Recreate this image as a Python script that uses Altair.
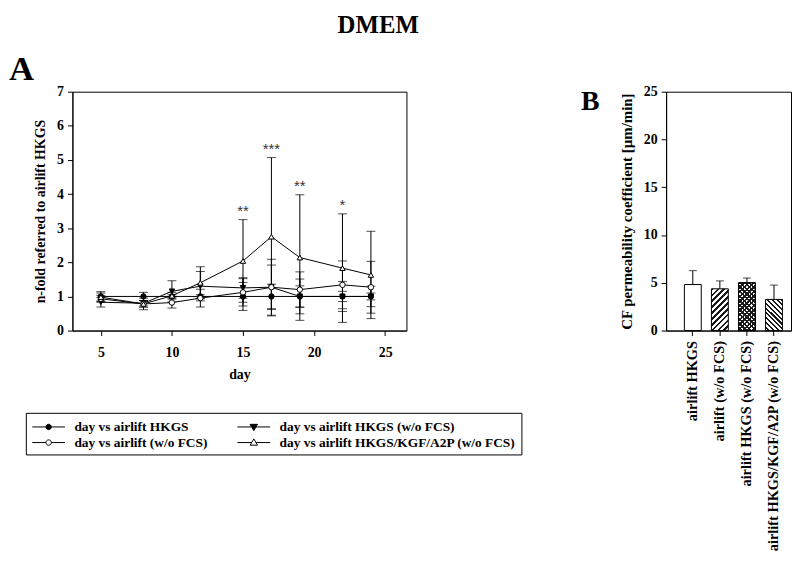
import altair as alt
import pandas as pd

# ---------------- data: panel A ----------------
days = [5, 8, 10, 12, 15, 17, 19, 22, 24]
series_names = [
    "day vs airlift HKGS",
    "day vs airlift HKGS (w/o FCS)",
    "day vs airlift (w/o FCS)",
    "day vs airlift HKGS/KGF/A2P (w/o FCS)",
]
hkgs_mean = [1.0, 1.0, 1.0, 1.0, 1.0, 1.0, 1.0, 1.0, 1.0]
hkgs_sd = [0.14, 0.12, 0.05, 0.05, 0.41, 0.36, 0.31, 0.15, 0.10]
hkgs_wo_mean = [0.83, 0.80, 1.15, 1.30, 1.25, 1.27, 1.00, 1.00, 1.00]
hkgs_wo_sd = [0.14, 0.08, 0.31, 0.43, 0.30, 0.65, 0.51, 0.44, 0.30]
airlift_wo_mean = [0.93, 0.78, 0.82, 0.95, 1.12, 1.27, 1.20, 1.34, 1.27]
airlift_wo_sd = [0.10, 0.17, 0.16, 0.26, 0.40, 0.82, 0.52, 0.70, 0.76]
kgf_mean = [0.98, 0.78, 1.02, 1.40, 2.04, 2.75, 2.14, 1.83, 1.63]
kgf_sd = [0.12, 0.10, 0.10, 0.47, 1.21, 2.32, 1.84, 1.59, 1.28]

sig_days = [15, 17, 19, 22]
sig_marks = ["**", "***", "**", "*"]

# ---------------- data: panel B ----------------
bar_categories = [
    "airlift HKGS",
    "airlift (w/o FCS)",
    "airlift HKGS (w/o FCS)",
    "airlift HKGS/KGF/A2P (w/o FCS)",
]
bar_means = [4.82, 4.37, 5.00, 3.26]
bar_sd = [1.45, 0.83, 0.50, 1.50]

# ---------------- tables ----------------
rows = []
for name, m, s in zip(series_names,
                      [hkgs_mean, hkgs_wo_mean, airlift_wo_mean, kgf_mean],
                      [hkgs_sd, hkgs_wo_sd, airlift_wo_sd, kgf_sd]):
    for d, mv, sv in zip(days, m, s):
        rows.append({"series": name, "day": d, "mean": mv, "lo": mv - sv, "hi": mv + sv})
df_a = pd.DataFrame(rows)

kgf_top = {d: m + s for d, m, s in zip(days, kgf_mean, kgf_sd)}
df_sig = pd.DataFrame({"day": sig_days, "mark": sig_marks,
                       "top": [kgf_top[d] for d in sig_days]})

df_b = pd.DataFrame({"cat": bar_categories, "mean": bar_means,
                     "hi": [m + s for m, s in zip(bar_means, bar_sd)]})

SERIF = "Liberation Serif"

# ---------------- panel A ----------------
W_A, H_A = 337, 241
x_scale = alt.Scale(domain=[3, 26.5], nice=False, zero=False)
y_scale = alt.Scale(domain=[0, 7], nice=False)
x_axis = alt.Axis(values=[5, 10, 15, 20, 25], title="day", labelPadding=10,
                  titlePadding=8)
y_axis = alt.Axis(values=list(range(8)), title="n-fold referred to airlift HKGS",
                  labelPadding=4, titlePadding=9, titleFontSize=14)


def xa():
    return alt.X("day:Q", scale=x_scale, axis=x_axis)


def ya(field):
    return alt.Y(f"{field}:Q", scale=y_scale, axis=y_axis)


base = alt.Chart(df_a)

err_rule = base.mark_rule(color="black", strokeWidth=1).encode(
    x=xa(), y=ya("lo"), y2="hi:Q")
err_caps = base.transform_fold(["lo", "hi"], as_=["end", "val"]).mark_tick(
    orient="horizontal", size=9, thickness=1, color="black").encode(
    x=xa(), y=ya("val"))
lines = base.mark_line(color="black", strokeWidth=1).encode(
    x=xa(), y=ya("mean"), detail="series:N")

shape_scale = alt.Scale(domain=series_names,
                        range=["circle", "triangle-down", "circle", "triangle-up"])
fill_scale = alt.Scale(domain=series_names, range=["black", "black", "white", "white"])
points = base.mark_point(filled=True, stroke="black", strokeWidth=1, size=30,
                         opacity=1).encode(
    x=xa(), y=ya("mean"),
    shape=alt.Shape("series:N", scale=shape_scale, legend=None),
    fill=alt.Fill("series:N", scale=fill_scale, legend=None),
)

# legend symbols: line with marker (legend fills column by column)
circ = "M-2,0H-0.33M0.33,0H2M0.33,0A0.33,0.33,0,1,1,-0.33,0A0.33,0.33,0,1,1,0.33,0Z"
tri_down = "M-2,0H-0.25M0.25,0H2M-0.45,-0.32L0.45,-0.32L0,0.45Z"
tri_up = "M-2,0H-0.25M0.25,0H2M-0.45,0.32L0.45,0.32L0,-0.45Z"
legend_order = [series_names[0], series_names[2], series_names[1], series_names[3]]
legend_paths = [circ, circ, tri_down, tri_up]
legend_fills = ["black", "white", "black", "white"]
legend_strokes = ["black", "black", "black", "black"]

leg = alt.Legend(orient="none", legendX=-47, legendY=324, columns=2, title=None,
                 labelFont=SERIF, labelFontWeight="bold", labelFontSize=13.5,
                 labelColor="black", symbolSize=272, symbolStrokeColor="black",
                 symbolStrokeWidth=1, symbolOpacity=1, symbolOffset=9,
                 labelOffset=17, columnPadding=27, rowPadding=0,
                 strokeColor="black", fillColor="white", padding=5, labelLimit=400)
legend_layer = base.transform_filter("false").mark_point(
    filled=False, strokeWidth=1).encode(
    x=xa(), y=ya("mean"),
    shape=alt.Shape("series:N",
                    scale=alt.Scale(domain=legend_order, range=legend_paths),
                    legend=leg),
    fill=alt.Fill("series:N",
                  scale=alt.Scale(domain=legend_order, range=legend_fills),
                  legend=leg),
    stroke=alt.Stroke("series:N",
                      scale=alt.Scale(domain=legend_order, range=legend_strokes),
                      legend=leg),
)

sig_text = alt.Chart(df_sig).mark_text(font="Liberation Sans", fontSize=15, dy=-4,
                                       baseline="alphabetic", color="#333").encode(
    x=xa(), y=ya("top"), text="mark:N")

label_a = alt.Chart(pd.DataFrame({"t": ["A"]})).mark_text(
    font=SERIF, fontWeight="bold", fontSize=35, align="left",
    baseline="alphabetic", color="black").encode(
    text="t:N", x=alt.value(-64), y=alt.value(-12))

chart_a = alt.layer(err_rule, err_caps, lines, points, legend_layer, sig_text,
                    label_a).resolve_scale(shape="independent", fill="independent",
                                           stroke="independent"
                                           ).properties(width=W_A, height=H_A)

# ---------------- panel B ----------------
W_B, H_B = 126, 241


def stripe_fill(kind, n, w, h, dark, light="white", duty=0.5):
    r = w / h
    b = (1 + r) / (1 + r * r)
    a = r * b
    if kind == "/":
        x1, y1, x2, y2 = 0, 0, a, b
    else:
        x1, y1, x2, y2 = 1, 0, 1 - a, b
    stops = []
    for k in range(n):
        s = k / n
        e = (k + duty) / n
        stops += [alt.GradientStop(offset=s, color=light),
                  alt.GradientStop(offset=s, color=dark),
                  alt.GradientStop(offset=e, color=dark),
                  alt.GradientStop(offset=e, color=light)]
    return alt.LinearGradient(gradient="linear", stops=stops,
                              x1=x1, y1=y1, x2=x2, y2=y2)


xb_scale = alt.Scale(domain=bar_categories, paddingInner=0.377, paddingOuter=0.496,
                     align=0.68)
xb_axis = alt.Axis(title=None, labelAngle=270, labelAlign="right",
                   labelBaseline="middle", labelPadding=5, labelLimit=400,
                   labelFontSize=14.5)
yb_scale = alt.Scale(domain=[0, 25], nice=False)
yb_axis = alt.Axis(values=[0, 5, 10, 15, 20, 25],
                   title="CF permeability coefficient [\u00b5m/min]",
                   labelPadding=4, titlePadding=9, titleFontSize=15)


def xb():
    return alt.X("cat:N", sort=bar_categories, scale=xb_scale, axis=xb_axis)


def yb(field):
    return alt.Y(f"{field}:Q", scale=yb_scale, axis=yb_axis)


base_b = alt.Chart(df_b)
px_per_unit = H_B / 25.0
bw = 17
fills = [
    ["white"],
    [stripe_fill("/", 10, bw, bar_means[1] * px_per_unit, "#1a1a1a", duty=0.45)],
    [stripe_fill("/", 14, bw, bar_means[2] * px_per_unit, "#1a1a1a", duty=0.5),
     stripe_fill("\\", 14, bw, bar_means[2] * px_per_unit, "#1a1a1a",
                 light="transparent", duty=0.5)],
    [stripe_fill("\\", 10, bw, bar_means[3] * px_per_unit, "#1a1a1a", duty=0.45)],
]
bar_layers = []
for cat, fl in zip(bar_categories, fills):
    for f in fl:
        bar_layers.append(
            base_b.transform_filter(alt.datum.cat == cat).mark_bar(
                fill=f, stroke="black", strokeWidth=1).encode(x=xb(), y=yb("mean")))

err_b = base_b.mark_rule(color="black", strokeWidth=1).encode(
    x=xb(), y=yb("mean"), y2="hi:Q")
cap_b = base_b.mark_tick(orient="horizontal", size=8, thickness=1,
                         color="black").encode(x=xb(), y=yb("hi"))
label_b = alt.Chart(pd.DataFrame({"t": ["B"]})).mark_text(
    font=SERIF, fontWeight="bold", fontSize=28, align="left",
    baseline="alphabetic", color="black").encode(
    text="t:N", x=alt.value(-86), y=alt.value(18))

chart_b = alt.layer(*bar_layers, err_b, cap_b, label_b).properties(width=W_B, height=H_B)

# ---------------- assemble ----------------
chart = alt.hconcat(
    chart_a, chart_b, spacing=262, bounds="flush",
    padding={"left": 0, "right": 0, "top": 2, "bottom": 0},
    title=alt.TitleParams("DMEM", font=SERIF, fontWeight="bold", fontSize=25,
                          color="black", anchor="middle", dx=-22, offset=14),
).configure_view(stroke="black", strokeWidth=1).configure_axis(
    labelFont=SERIF, labelFontWeight="bold", labelFontSize=14, labelColor="black",
    titleFont=SERIF, titleFontWeight="bold", titleFontSize=14, titleColor="black",
    domainColor="black", tickColor="black", grid=False, tickSize=5,
)

chart.save("out.html", embed_options={"renderer": "svg", "actions": False})
